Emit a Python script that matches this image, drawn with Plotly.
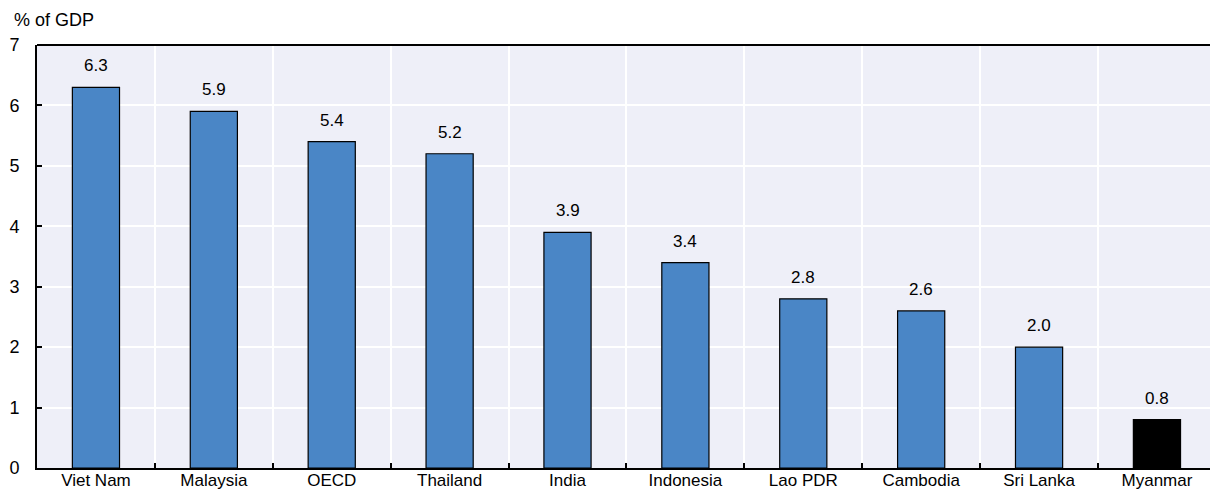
import plotly.graph_objects as go

# Public expenditure on education, % of GDP
countries = ["Viet Nam", "Malaysia", "OECD", "Thailand", "India",
             "Indonesia", "Lao PDR", "Cambodia", "Sri Lanka", "Myanmar"]
values = [6.3, 5.9, 5.4, 5.2, 3.9, 3.4, 2.8, 2.6, 2.0, 0.8]
highlight = "Myanmar"

y_ticks = [0, 1, 2, 3, 4, 5, 6, 7]

BLUE = "#4a86c6"
BG = "#eeeff8"
FONT = "Liberation Sans Narrow, Arial Narrow, Liberation Sans, Arial, sans-serif"

bar_colors = ["#000000" if c == highlight else BLUE for c in countries]

fig = go.Figure()
fig.add_trace(go.Bar(
    x=countries, y=values,
    marker=dict(color=bar_colors, line=dict(color="#000000", width=1.2)),
    width=0.4, showlegend=False, hoverinfo="x+y",
))

# value labels above each bar
for c, v in zip(countries, values):
    fig.add_annotation(x=c, y=v, text=f"{v:.1f}", showarrow=False,
                       yanchor="bottom", yshift=10,
                       font=dict(family=FONT, size=17, color="#000000"))

n = len(countries)
x_range = [-0.5, n - 0.55]
boundaries = [i + 0.5 for i in range(n - 1)]

fig.update_layout(
    width=1210, height=492,
    margin=dict(l=37, r=0, t=45, b=24),
    paper_bgcolor="white", plot_bgcolor=BG,
    font=dict(family=FONT, size=16, color="#000000"),
    bargap=0.6,
    xaxis=dict(type="category", range=x_range, showgrid=False, ticks="",
               tickfont=dict(size=17), showline=False, zeroline=False,
               fixedrange=True),
    xaxis2=dict(overlaying="x", anchor="y", side="bottom", range=x_range,
                tickvals=boundaries, showticklabels=False,
                showgrid=True, gridcolor="white", gridwidth=2,
                ticks="inside", ticklen=5, tickcolor="#000000", tickwidth=1.5,
                showline=True, linecolor="#000000", linewidth=2,
                zeroline=False, fixedrange=True),
    yaxis=dict(range=[0, 7], tickvals=y_ticks, showgrid=True,
               gridcolor="white", gridwidth=2,
               ticks="inside", ticklen=5, tickcolor="#000000", tickwidth=1.5,
               showline=True, linecolor="#000000", linewidth=2,
               zeroline=False, tickfont=dict(size=18), ticklabelstandoff=12,
               fixedrange=True),
    shapes=[dict(type="line", xref="paper", yref="paper",
                 x0=0, x1=1, y0=1, y1=1,
                 line=dict(color="#000000", width=2))],
)

# dummy trace to activate the secondary x axis carrying the boundary grid
fig.add_trace(go.Scatter(x=[None], y=[None], xaxis="x2", yaxis="y",
                         showlegend=False, hoverinfo="skip"))

fig.add_annotation(text="% of GDP", xref="paper", yref="paper",
                   x=-25 / 1173, y=1, xanchor="left", yanchor="bottom",
                   yshift=13, showarrow=False,
                   font=dict(family=FONT, size=18, color="#000000"))

fig.write_html("out.html")
